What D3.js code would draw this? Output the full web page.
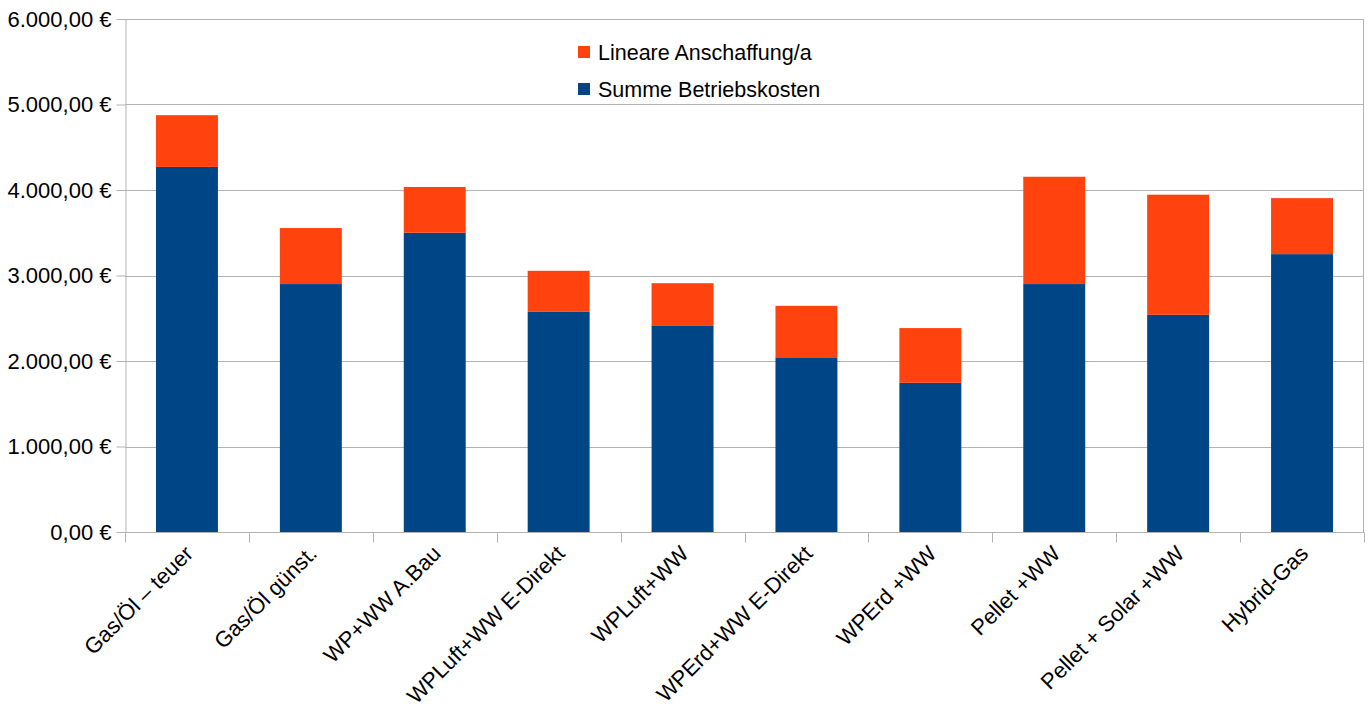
<!DOCTYPE html>
<html>
<head>
<meta charset="utf-8">
<script src="https://cdn.jsdelivr.net/npm/d3@7"></script>
<style>
  body { margin: 0; background: #fff; }
  text { font-family: "Liberation Sans", Arial, sans-serif; fill: #000; }
</style>
</head>
<body>
<div id="chart"></div>
<script>
// data
var categories = ["Gas/Öl – teuer", "Gas/Öl günst.", "WP+WW A.Bau", "WPLuft+WW E-Direkt",
  "WPLuft+WW", "WPErd+WW E-Direkt", "WPErd +WW", "Pellet +WW", "Pellet + Solar +WW", "Hybrid-Gas"];
var betrieb = [4270, 2900, 3500, 2575, 2410, 2035, 1745, 2900, 2540, 3250];
var anschaffung = [605, 655, 535, 480, 500, 610, 640, 1255, 1405, 655];
var yTicks = [0, 1000, 2000, 3000, 4000, 5000, 6000];
var seriesNames = ["Lineare Anschaffung/a", "Summe Betriebskosten"];
var colors = {betrieb: "#004586", anschaffung: "#ff420e"};

var W = 1371, H = 708;
var margin = {top: 19, right: 7, bottom: 176, left: 125},
    width = W - margin.left - margin.right,
    height = H - margin.top - margin.bottom;

var svg = d3.select("#chart")
  .append("svg")
    .attr("width", W)
    .attr("height", H)
  .append("g")
    .attr("transform", "translate(" + margin.left + "," + margin.top + ")");

var x = d3.scaleBand()
  .domain(categories)
  .range([0, width])
  .paddingInner(0.5)
  .paddingOuter(0.25);

var y = d3.scaleLinear()
  .domain([0, 6000])
  .range([height, 0]);

var fmt = function(v) {
  return d3.format(",.2f")(v).replace(/,/g, "X").replace(/\./g, ",").replace(/X/g, ".") + " €";
};

// gridlines
svg.append("g")
  .selectAll("line")
  .data(yTicks)
  .enter().append("line")
    .attr("x1", 0).attr("x2", width)
    .attr("y1", function(d) { return Math.round(y(d)) + 0.5; })
    .attr("y2", function(d) { return Math.round(y(d)) + 0.5; })
    .style("stroke", "#b3b3b3");

// right border
svg.append("line")
  .attr("x1", width - 0.5).attr("x2", width - 0.5)
  .attr("y1", 0).attr("y2", height)
  .style("stroke", "#b3b3b3");

// bars
var stack = categories.map(function(c, i) {
  return {cat: c, b: betrieb[i], a: anschaffung[i]};
});

svg.append("g").selectAll("rect")
  .data(stack)
  .enter().append("rect")
    .attr("x", function(d) { return x(d.cat); })
    .attr("width", x.bandwidth())
    .attr("y", function(d) { return y(d.b); })
    .attr("height", function(d) { return y(0) - y(d.b); })
    .style("fill", colors.betrieb);

svg.append("g").selectAll("rect")
  .data(stack)
  .enter().append("rect")
    .attr("x", function(d) { return x(d.cat); })
    .attr("width", x.bandwidth())
    .attr("y", function(d) { return y(d.b + d.a); })
    .attr("height", function(d) { return y(d.b) - y(d.b + d.a); })
    .style("fill", colors.anschaffung);

// y axis
var yAxis = svg.append("g")
  .attr("transform", "translate(0.5,0)")
  .call(d3.axisLeft(y).tickValues(yTicks).tickFormat(fmt).tickSize(9).tickSizeOuter(0));
yAxis.select(".domain").style("stroke", "#b3b3b3");
yAxis.selectAll(".tick line").style("stroke", "#b3b3b3");
yAxis.selectAll(".tick text")
  .attr("x", -14)
  .style("font-size", "22px")
  .style("font-family", "Liberation Sans, Arial, sans-serif");

// x axis with ticks at band boundaries
var bounds = d3.range(categories.length + 1).map(function(i) { return i * width / categories.length; });
var xg = svg.append("g").attr("transform", "translate(0," + (height + 0.5) + ")");
xg.append("line")
  .attr("x1", 0).attr("x2", width)
  .style("stroke", "#b3b3b3");
xg.selectAll(".xt")
  .data(bounds)
  .enter().append("line")
    .attr("x1", function(d) { return Math.round(d) + 0.5; })
    .attr("x2", function(d) { return Math.round(d) + 0.5; })
    .attr("y1", 0).attr("y2", 10)
    .style("stroke", "#b3b3b3");

xg.selectAll(".lbl")
  .data(categories)
  .enter().append("text")
    .attr("transform", function(d) {
      return "translate(" + (x(d) + x.bandwidth() / 2 + 2) + ",17) rotate(-45)";
    })
    .attr("text-anchor", "end")
    .attr("dy", "0.35em")
    .style("font-size", "22px")
    .text(function(d) { return d; });

// legend
var legend = svg.append("g").attr("transform", "translate(453,0)");
var legendColors = [colors.anschaffung, colors.betrieb];
seriesNames.forEach(function(name, i) {
  var row = legend.append("g").attr("transform", "translate(0," + (33 + i * 37) + ")");
  row.append("rect")
    .attr("x", 0).attr("y", -6)
    .attr("width", 12).attr("height", 12)
    .style("fill", legendColors[i]);
  row.append("text")
    .attr("x", 20)
    .attr("dy", "0.35em")
    .style("font-size", "21.5px")
    .text(name);
});
</script>
</body>
</html>
